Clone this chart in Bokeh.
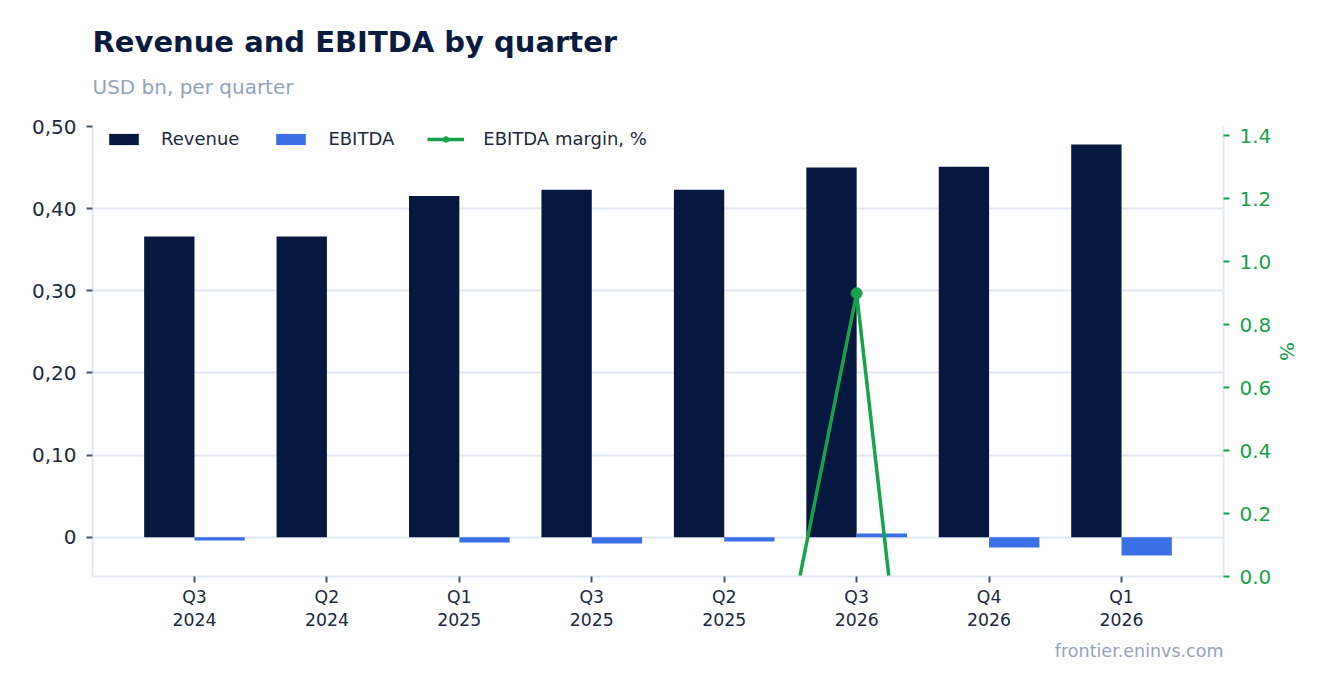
import math
from bokeh.plotting import figure
from bokeh.models import (Range1d, LinearAxis, FixedTicker, CustomJSTickFormatter,
                          Legend, LegendItem, Title, ColumnDataSource)
from bokeh.transform import dodge
from bokeh.embed import file_html
from bokeh.resources import INLINE

# ---- data ----
quarters = ["Q3\n2024", "Q2\n2024", "Q1\n2025", "Q3\n2025", "Q2\n2025", "Q3\n2026", "Q4\n2026", "Q1\n2026"]
revenue = [0.366, 0.366, 0.4155, 0.423, 0.423, 0.450, 0.451, 0.478]
ebitda = [-0.004, 0.0, -0.0065, -0.0077, -0.0053, 0.0045, -0.0126, -0.0223]
margin = [-1.1, float("nan"), -1.6, -1.8, -1.2, 0.9, -2.8, -4.7]
left_ticks = [0, 0.1, 0.2, 0.3, 0.4, 0.5]
right_ticks = [0.0, 0.2, 0.4, 0.6, 0.8, 1.0, 1.2, 1.4]

# ---- style ----
FONT = "DejaVu Sans"
C_REV = "#061740"
C_EB = "#3b6fe5"
C_GREEN = "#16a34a"
C_GRID = "#e2e8f0"
C_TEXT = "#1e293b"
C_TICK = "#475569"
C_SUB = "#94a3b8"
C_TITLE = "#0b1b3f"

xs = list(range(len(quarters)))
src = ColumnDataSource(dict(x=xs, revenue=revenue, ebitda=ebitda, margin=margin))

p = figure(width=1321, height=685, title=None,
           x_range=Range1d(-0.77, 7.77), y_range=Range1d(-0.0478, 0.5),
           output_backend="svg", toolbar_location=None,
           min_border_left=92, min_border_right=98, min_border_top=126, min_border_bottom=109)
p.outline_line_color = None
p.background_fill_color = "white"
p.border_fill_color = "white"

p.extra_y_ranges = {"pct": Range1d(0, 1.43)}

r_rev = p.vbar(x=dodge("x", -0.19, range=p.x_range), top="revenue", bottom=0, width=0.38,
               source=src, fill_color=C_REV, line_color=None)
r_eb = p.vbar(x=dodge("x", 0.19, range=p.x_range), top="ebitda", bottom=0, width=0.38,
              source=src, fill_color=C_EB, line_color=None)
r_line = p.line("x", "margin", source=src, y_range_name="pct", line_color=C_GREEN, line_width=3.5)
r_pts = p.scatter("x", "margin", source=src, y_range_name="pct", size=11,
                  fill_color=C_GREEN, line_color=C_GREEN)

# grids
p.xgrid.visible = False
p.ygrid.grid_line_color = C_GRID
p.ygrid.grid_line_width = 2

# left axis
ya = p.yaxis[0]
ya.ticker = FixedTicker(ticks=left_ticks)
ya.formatter = CustomJSTickFormatter(code="return tick == 0 ? '0' : tick.toFixed(2).replace('.', ',');")
ya.axis_line_color = C_GRID
ya.axis_line_width = 2
ya.major_tick_line_color = C_TICK
ya.major_tick_line_width = 2
ya.major_tick_out = 6
ya.major_tick_in = 0
ya.minor_tick_line_color = None
ya.major_label_text_font = FONT
ya.major_label_text_font_size = "20px"
ya.major_label_text_color = C_TEXT
ya.major_label_standoff = 10

# x axis
xa = p.xaxis[0]
xa.ticker = FixedTicker(ticks=xs)
xa.major_label_overrides = {i: q for i, q in zip(xs, quarters)}
xa.axis_line_color = C_GRID
xa.axis_line_width = 2
xa.major_tick_line_color = C_TICK
xa.major_tick_line_width = 2
xa.major_tick_out = 6
xa.major_tick_in = 0
xa.minor_tick_line_color = None
xa.major_label_text_font = FONT
xa.major_label_text_font_size = "17.3px"
xa.major_label_text_line_height = 1.15
xa.major_label_text_color = C_TEXT
xa.major_label_standoff = 4

# right axis
ra = LinearAxis(y_range_name="pct", ticker=FixedTicker(ticks=right_ticks),
                formatter=CustomJSTickFormatter(code="return tick.toFixed(1);"),
                axis_label="%")
ra.axis_line_color = C_GRID
ra.axis_line_width = 2
ra.major_tick_line_color = C_GREEN
ra.major_tick_line_width = 2
ra.major_tick_out = 6
ra.major_tick_in = 0
ra.minor_tick_line_color = None
ra.major_label_text_font = FONT
ra.major_label_text_font_size = "20px"
ra.major_label_text_color = C_GREEN
ra.major_label_standoff = 10
ra.axis_label_text_font = FONT
ra.axis_label_text_font_size = "20px"
ra.axis_label_text_font_style = "normal"
ra.axis_label_text_color = C_GREEN
ra.axis_label_standoff = 1
p.add_layout(ra, "right")

# legend
legend = Legend(items=[
    LegendItem(label="Revenue", renderers=[r_rev]),
    LegendItem(label="EBITDA", renderers=[r_eb]),
    LegendItem(label="EBITDA margin, %", renderers=[r_line, r_pts]),
], location=(13, 427), orientation="horizontal")
legend.border_line_color = None
legend.background_fill_alpha = 0
legend.margin = 0
legend.padding = 0
legend.glyph_width = 37
legend.glyph_height = 14
legend.label_standoff = 19
legend.spacing = 33
legend.label_text_font = FONT
legend.label_text_font_size = "18px"
legend.label_text_color = C_TEXT
p.add_layout(legend, "center")

# titles (first added = closest to the frame); the first one is a blank spacer
p.add_layout(Title(text=" ", text_font=FONT, text_font_size="10px", standoff=11), "above")
p.add_layout(Title(text="USD bn, per quarter", text_font=FONT, text_font_size="20px",
                   text_font_style="normal", text_color=C_SUB, align="left", standoff=8), "above")
p.add_layout(Title(text="Revenue and EBITDA by quarter", text_font=FONT, text_font_size="29px",
                   text_font_style="bold", text_color=C_TITLE, align="left", standoff=19), "above")
p.add_layout(Title(text="frontier.eninvs.com", text_font=FONT, text_font_size="17.5px",
                   text_font_style="normal", text_color=C_SUB, align="right", standoff=12), "below")

open("out.html", "w").write(file_html(p, INLINE))
